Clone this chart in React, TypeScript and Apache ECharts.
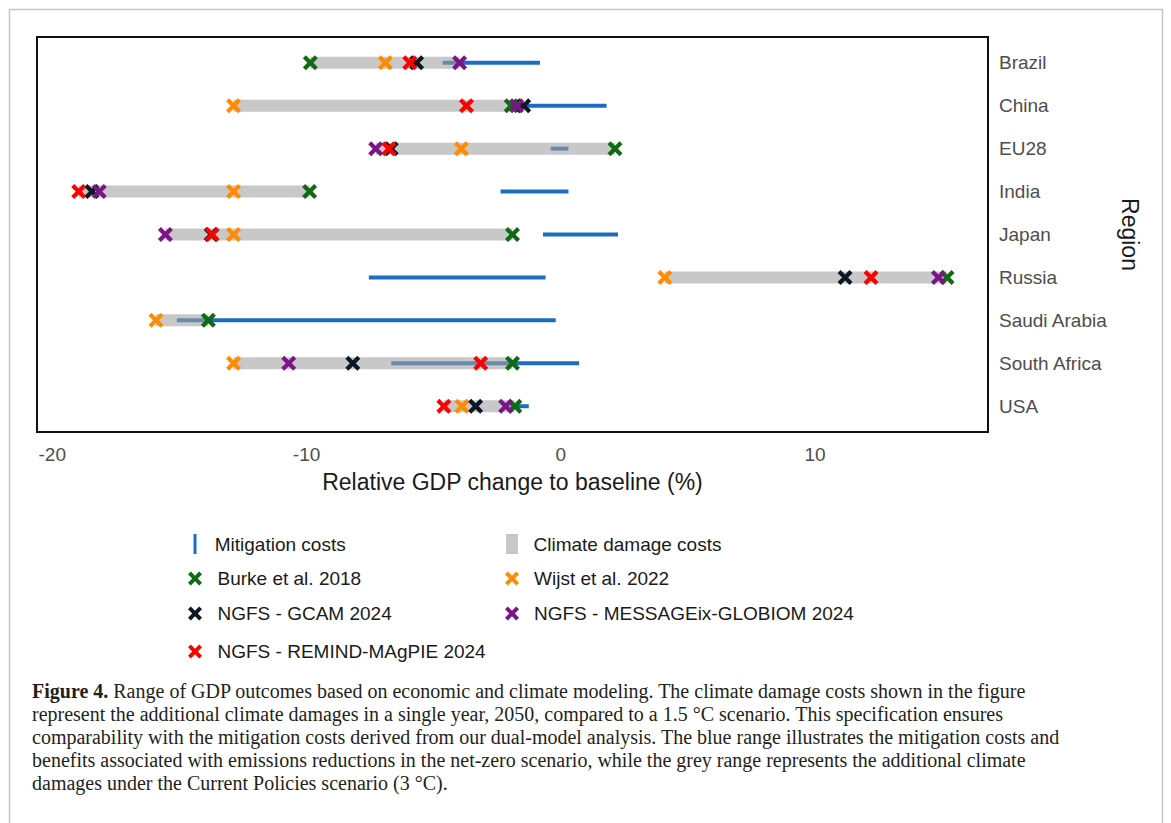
import React, { useEffect, useRef } from "react";
import * as echarts from "echarts";

const regions = ["Brazil", "China", "EU28", "India", "Japan", "Russia", "Saudi Arabia", "South Africa", "USA"];
const regionIdx = [0, 1, 2, 3, 4, 5, 6, 7, 8];

// Mitigation cost range (blue)
const mitigationLow = [-4.65, -1.7, -0.4, -2.37, -0.7, -7.55, -15.1, -6.67, -2.0];
const mitigationHigh = [-0.82, 1.8, 0.3, 0.3, 2.25, -0.6, -0.2, 0.72, -1.26];

// Climate damage estimates (markers)
const burke2018 = [-9.85, -1.95, 2.13, -9.88, -1.9, 15.19, -13.86, -1.9, -1.81];
const wijst2022 = [-6.9, -12.87, -3.91, -12.87, -12.87, 4.09, -15.92, -12.87, -3.89];
const ngfsGcam = [-5.67, -1.46, -6.67, -18.44, -13.75, 11.18, null, -8.18, -3.35];
const ngfsMessage = [-3.98, -1.74, -7.28, -18.15, -15.55, 14.85, null, -10.7, -2.17];
const ngfsRemind = [-5.94, -3.71, -6.76, -18.96, -13.71, 12.2, null, -3.15, -4.6];

const xTicks = [-20, -10, 0, 10];

const X_PATH = "path://M0,4L4,0L10,6L16,0L20,4L14,10L20,16L16,20L10,14L4,20L0,16L6,10Z";
const BAR_PATH = "path://M0,0L3,0L3,20L0,20Z";
const SQ_PATH = "path://M0,0L12,0L12,20L0,20Z";

const SANS = "'Liberation Sans', Arial, Helvetica, sans-serif";
const SERIF = "'Liberation Serif', 'Times New Roman', serif";

const markerSeries = [
  { name: "Burke et al. 2018", values: burke2018, color: "#0f6b12" },
  { name: "Wijst et al. 2022", values: wijst2022, color: "#ff8c00" },
  { name: "NGFS - GCAM 2024", values: ngfsGcam, color: "#0d1826" },
  { name: "NGFS - MESSAGEix-GLOBIOM 2024", values: ngfsMessage, color: "#7b1585" },
  { name: "NGFS - REMIND-MAgPIE 2024", values: ngfsRemind, color: "#ff0000" },
];

const captionLines = [
  "{b|Figure 4.} Range of GDP outcomes based on economic and climate modeling. The climate damage costs shown in the figure",
  "represent the additional climate damages in a single year, 2050, compared to a 1.5 °C scenario. This specification ensures",
  "comparability with the mitigation costs derived from our dual-model analysis. The blue range illustrates the mitigation costs and",
  "benefits associated with emissions reductions in the net-zero scenario, while the grey range represents the additional climate",
  "damages under the Current Policies scenario (3 °C).",
];

export default function App() {
  const ref = useRef<HTMLDivElement>(null);
  useEffect(() => {
    if (!ref.current) return;
    const chart = echarts.init(ref.current, null, { renderer: "svg" });

    const mitigationData = regionIdx.map((i) => [mitigationLow[i], mitigationHigh[i], i]);
    const damageData = regionIdx.map((i) => {
      const vals = markerSeries.map((s) => s.values[i]).filter((v) => v !== null) as number[];
      return [Math.min(...vals), Math.max(...vals), i];
    });

    const legendBase = {
      orient: "horizontal",
      padding: 0,
      selectedMode: false,
      textStyle: { fontSize: 19, color: "#1a1a1a", fontFamily: SANS },
    };
    const legendRows: any[] = [
      { name: "Mitigation costs", icon: BAR_PATH, left: 193.5, w: 29.5, cy: 544, h: 20 },
      { name: "Climate damage costs", icon: SQ_PATH, left: 506, w: 33, cy: 544, h: 20 },
      { name: markerSeries[0].name, icon: X_PATH, left: 188, w: 35, cy: 576, h: 14 },
      { name: markerSeries[1].name, icon: X_PATH, left: 505, w: 34, cy: 576, h: 14 },
      { name: markerSeries[2].name, icon: X_PATH, left: 188, w: 35, cy: 611, h: 14 },
      { name: markerSeries[3].name, icon: X_PATH, left: 505, w: 34, cy: 611, h: 14 },
      { name: markerSeries[4].name, icon: X_PATH, left: 188, w: 35, cy: 649, h: 14 },
    ];

    const option: any = {
      animation: false,
      backgroundColor: "#ffffff",
      grid: {
        left: 37,
        top: 37,
        width: 951,
        height: 395,
        show: true,
        borderColor: "#111111",
        borderWidth: 2,
        backgroundColor: "transparent",
      },
      xAxis: {
        type: "value",
        min: -20.6,
        max: 16.8,
        axisLine: { show: false },
        axisTick: { show: false },
        splitLine: { show: false },
        axisLabel: {
          customValues: xTicks,
          margin: 13,
          fontSize: 19,
          color: "#4d4d4d",
          fontFamily: SANS,
        },
        name: "Relative GDP change to baseline (%)",
        nameLocation: "middle",
        nameGap: 38,
        nameTextStyle: { fontSize: 23, color: "#1a1a1a", fontFamily: SANS },
      },
      yAxis: {
        type: "value",
        inverse: true,
        min: -0.6,
        max: 8.6,
        position: "right",
        axisLine: { show: false },
        axisTick: { show: false },
        splitLine: { show: false },
        axisLabel: {
          customValues: regionIdx,
          formatter: (v: number) => regions[Math.round(v)] ?? "",
          margin: 11,
          fontSize: 19,
          color: "#4d4d4d",
          fontFamily: SANS,
        },
        name: "Region",
        nameLocation: "middle",
        nameRotate: -90,
        nameGap: 123,
        nameTextStyle: { fontSize: 23, color: "#1a1a1a", fontFamily: SANS },
      },
      legend: legendRows.map((r) => ({
        ...legendBase,
        left: r.left,
        top: r.cy - r.h / 2,
        itemWidth: r.w,
        itemHeight: r.h,
        data: [{ name: r.name, icon: r.icon }],
      })),
      graphic: [
        {
          type: "rect",
          silent: true,
          z: -10,
          shape: { x: 9.5, y: 9.5, width: 1153, height: 830 },
          style: { fill: "none", stroke: "#c4c4c4", lineWidth: 1.5 },
        },
        {
          type: "text",
          left: 32,
          top: 679,
          style: {
            text: captionLines.join("\n"),
            fontSize: 20,
            fontFamily: SERIF,
            lineHeight: 23,
            fill: "#231f20",
            rich: {
              b: { fontWeight: "bold", fontSize: 20, fontFamily: SERIF, lineHeight: 23, fill: "#231f20" },
            },
          },
        },
      ],
      series: [
        {
          name: "Mitigation costs",
          type: "custom",
          itemStyle: { color: "#1c6cc0" },
          encode: { x: [0, 1], y: 2 },
          data: mitigationData,
          renderItem: (params: any, api: any) => {
            const p1 = api.coord([api.value(0), api.value(2)]);
            const p2 = api.coord([api.value(1), api.value(2)]);
            return {
              type: "line",
              shape: { x1: p1[0], y1: p1[1], x2: p2[0], y2: p2[1] },
              style: { stroke: "#1c6cc0", lineWidth: 4, lineCap: "butt" },
            };
          },
        },
        {
          name: "Climate damage costs",
          type: "custom",
          itemStyle: { color: "#c8c8c8" },
          encode: { x: [0, 1], y: 2 },
          data: damageData,
          renderItem: (params: any, api: any) => {
            const p1 = api.coord([api.value(0), api.value(2)]);
            const p2 = api.coord([api.value(1), api.value(2)]);
            return {
              type: "rect",
              shape: { x: p1[0], y: p1[1] - 6, width: p2[0] - p1[0], height: 12 },
              style: { fill: "rgba(160,160,160,0.58)" },
            };
          },
        },
        ...markerSeries.map((s) => ({
          name: s.name,
          type: "scatter",
          symbol: X_PATH,
          symbolSize: 15,
          itemStyle: { color: s.color, opacity: 1 },
          data: regionIdx.filter((i) => s.values[i] !== null).map((i) => [s.values[i], i]),
        })),
      ],
    };
    chart.setOption(option);
    return () => chart.dispose();
  }, []);
  return (
    <div
      ref={ref}
      style={{ position: "absolute", left: 0, top: 0, width: 1171, height: 823, background: "#fff" }}
    />
  );
}
